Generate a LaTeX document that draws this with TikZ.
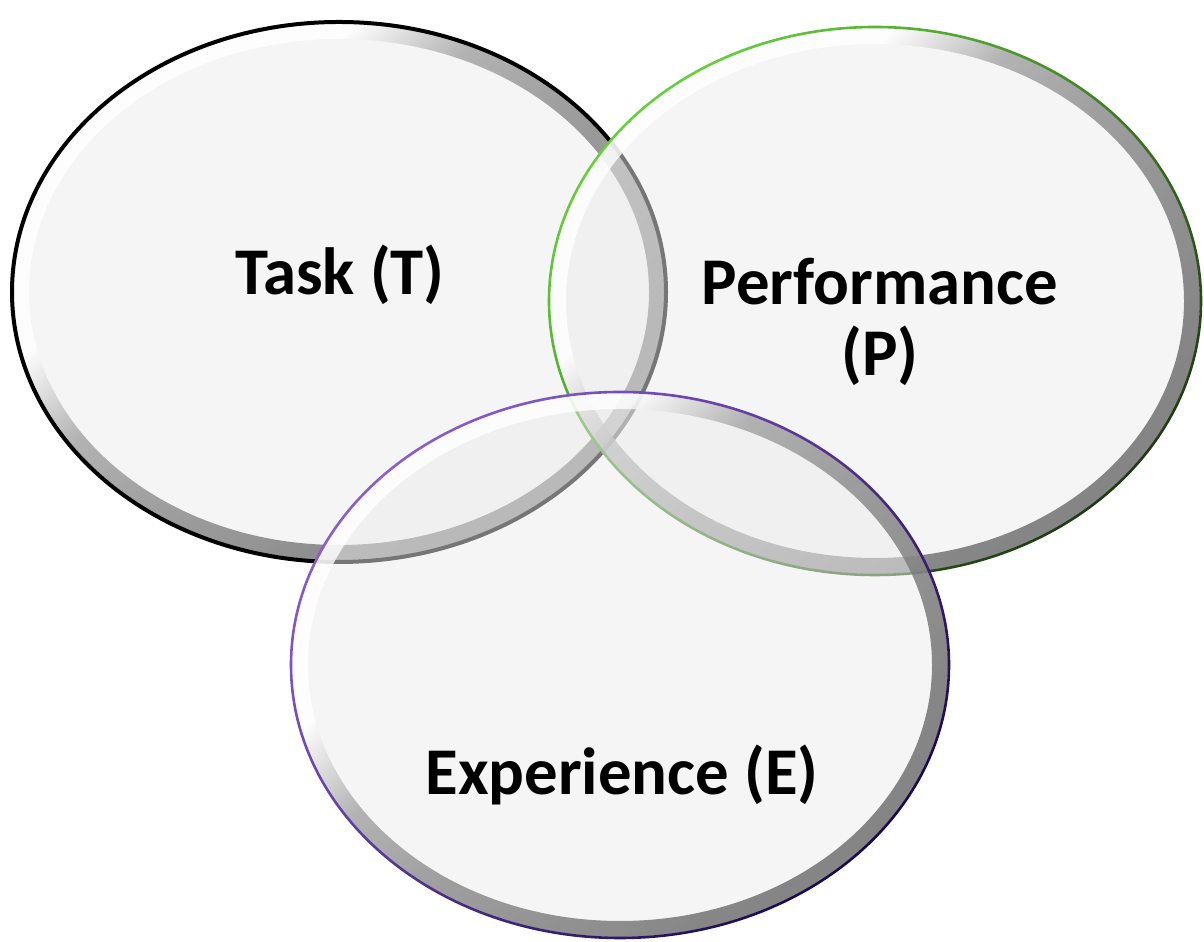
\documentclass[tikz,border=0pt]{standalone}
\usepackage{fontspec}
\setmainfont{Carlito}
\definecolor{perflight}{HTML}{66D03C}
\definecolor{perfdark}{HTML}{1E3A12}
\definecolor{explight}{HTML}{8A5CD0}
\definecolor{expdark}{HTML}{1A0850}
\pgfdeclareverticalshading{rimshade}{100bp}{color(0bp)=(black!62); color(30bp)=(black!58); color(48bp)=(black!46); color(57bp)=(black!36); color(65bp)=(white); color(100bp)=(white)}
\newcommand{\vennring}[6]{%
  % #1 centre, #2 #3 radii, #4 #5 edge colours (light, dark), #6 edge width
  \fill[venn fill] #1 ellipse [x radius=#2, y radius=#3];
  \shade[even odd rule, venn rim] #1 ellipse [x radius=#2-1, y radius=#3-1] #1 ellipse [x radius=#2-17, y radius=#3-17];
  \shade[even odd rule, top color=#4, bottom color=#5, shading angle=45] #1 ellipse [x radius=#2+#6, y radius=#3+#6] #1 ellipse [x radius=#2-#6, y radius=#3-#6];
}

\begin{document}
\begin{tikzpicture}[x=0.02cm, y=0.02cm]
    \tikzset{venn fill/.style={fill=black!7, fill opacity=0.5},
      venn rim/.style={shading=rimshade, shading angle=45, opacity=0.8},
      vennlabel/.style={font=\fontsize{38}{40}\selectfont\bfseries, align=center}}
\useasboundingbox[fill=white] (0,0) rectangle (1204,942);
\vennring{(339,650)}{327}{270}{black}{black}{2}
\vennring{(875,641)}{326}{274}{perflight}{perfdark}{1.3}
\vennring{(620,277)}{329}{273}{explight}{expdark}{1.3}
 \node[vennlabel] (task) at (340,667) {Task (T)};
 \node[vennlabel] (perf) at (880,620) {Performance\\(P)};
 \node[vennlabel] (exp) at (622,167) {Experience (E)};
% \draw (task) -- (exp);

\end{tikzpicture}
\end{document}
